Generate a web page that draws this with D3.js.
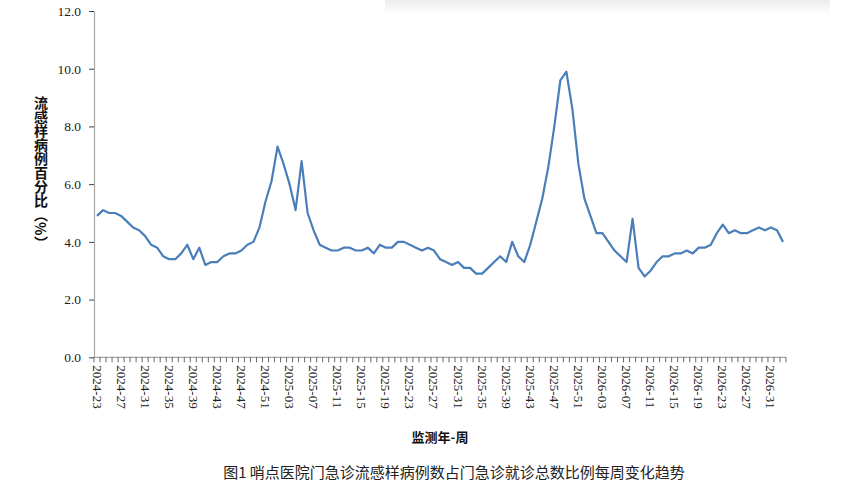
<!DOCTYPE html>
<html>
<head>
<meta charset="utf-8">
<script src="https://cdn.jsdelivr.net/npm/d3@7"></script>
<style>
	body { margin: 0; background: #fff; }
	svg { display: block; }
</style>
</head>
<body>
<svg width="849" height="501"></svg>
<script>
	// week ranges covered by the series: [year, first week, last week]
	const weekRanges = [[2024, 23, 52], [2025, 1, 52], [2026, 1, 33]];

	const rates = [
		4.9, 5.1, 5.0, 5.0, 4.9, 4.7, 4.5, 4.4, 4.2, 3.9,
		3.8, 3.5, 3.4, 3.4, 3.6, 3.9, 3.4, 3.8, 3.2, 3.3,
		3.3, 3.5, 3.6, 3.6, 3.7, 3.9, 4.0, 4.5, 5.4, 6.1,
		7.3, 6.7, 6.0, 5.1, 6.8, 5.0, 4.4, 3.9, 3.8, 3.7,
		3.7, 3.8, 3.8, 3.7, 3.7, 3.8, 3.6, 3.9, 3.8, 3.8,
		4.0, 4.0, 3.9, 3.8, 3.7, 3.8, 3.7, 3.4, 3.3, 3.2,
		3.3, 3.1, 3.1, 2.9, 2.9, 3.1, 3.3, 3.5, 3.3, 4.0,
		3.5, 3.3, 3.9, 4.7, 5.5, 6.6, 8.0, 9.6, 9.9, 8.6,
		6.7, 5.5, 4.9, 4.3, 4.3, 4.0, 3.7, 3.5, 3.3, 4.8,
		3.1, 2.8, 3.0, 3.3, 3.5, 3.5, 3.6, 3.6, 3.7, 3.6,
		3.8, 3.8, 3.9, 4.3, 4.6, 4.3, 4.4, 4.3, 4.3, 4.4,
		4.5, 4.4, 4.5, 4.4, 4.0
	];

	const yTicks = [0, 2, 4, 6, 8, 10, 12];

	const weeks = [];
	weekRanges.forEach(([year, from, to]) => {
		for (let w = from; w <= to; w++) weeks.push(`${year}-${String(w).padStart(2, '0')}`);
	});
	// every 4th week gets a label
	const weekLabels = weeks.filter((d, i) => i % 4 === 0);

	(function() {
		const svg = d3.select('svg');

		const plotLeft = 94;
		const plotRight = 786;
		const plotTop = 11;
		const plotBottom = 357.3;

		// faint shadow band along the top edge
		const shade = svg.append('defs').append('linearGradient')
			.attr('id', 'shade')
			.attr('x1', 0).attr('y1', 0).attr('x2', 0).attr('y2', 1);
		shade.append('stop').attr('offset', '0%').attr('stop-color', '#ececec');
		shade.append('stop').attr('offset', '100%').attr('stop-color', '#ffffff');
		svg.append('rect')
			.attr('x', 385).attr('y', 0)
			.attr('width', 445).attr('height', 14)
			.attr('fill', 'url(#shade)');

		const x = d3.scaleBand()
			.domain(weeks)
			.range([plotLeft, plotRight])
			.padding(0);

		const y = d3.scaleLinear()
			.domain([0, 12])
			.range([plotBottom, plotTop]);

		// y axis
		const yAxis = svg.append('g')
			.attr('transform', `translate(${plotLeft}, 0)`)
			.call(d3.axisLeft(y)
				.tickValues(yTicks)
				.tickFormat(d3.format('.1f'))
				.tickSize(5)
				.tickSizeOuter(0)
				.tickPadding(8));
		yAxis.select('.domain').attr('stroke', '#a6a6a6').attr('stroke-width', 1.2);
		yAxis.selectAll('.tick line').attr('stroke', '#404040');
		yAxis.selectAll('.tick text')
			.attr('font-family', '"Liberation Serif", "Times New Roman", serif')
			.attr('font-size', 13.5)
			.attr('fill', '#222');

		// x axis: week boundary ticks
		const xAxis = svg.append('g');
		xAxis.append('line')
			.attr('x1', plotLeft).attr('x2', plotRight)
			.attr('y1', plotBottom).attr('y2', plotBottom)
			.attr('stroke', '#a6a6a6')
			.attr('stroke-width', 1.2);
		xAxis.selectAll('.wtick')
			.data(weeks.concat(['end']))
			.enter().append('line')
			.attr('class', 'wtick')
			.attr('x1', d => d === 'end' ? plotRight : x(d))
			.attr('x2', d => d === 'end' ? plotRight : x(d))
			.attr('y1', plotBottom)
			.attr('y2', plotBottom + 5)
			.attr('stroke', '#404040')
			.attr('stroke-width', 0.8);

		xAxis.selectAll('.wlabel')
			.data(weekLabels)
			.enter().append('text')
			.attr('class', 'wlabel')
			.attr('transform', d => `translate(${x(d) + x.bandwidth() / 2}, ${plotBottom + 8}) rotate(90)`)
			.attr('dominant-baseline', 'central')
			.attr('font-family', '"Liberation Serif", "Times New Roman", serif')
			.attr('font-size', 13)
			.attr('fill', '#222')
			.text(d => d);

		// series
		const line = d3.line()
			.x((d, i) => x(weeks[i]) + x.bandwidth() / 2)
			.y(d => y(d));

		svg.append('path')
			.datum(rates)
			.attr('d', line)
			.attr('fill', 'none')
			.attr('stroke', '#4a7ebb')
			.attr('stroke-width', 2.2)
			.attr('stroke-linejoin', 'round');

		// titles
		svg.append('text')
			.attr('x', 41)
			.attr('y', 96)
			.attr('writing-mode', 'vertical-rl')
			.attr('font-family', '"Noto Sans CJK SC", sans-serif')
			.attr('font-weight', 'bold')
			.attr('font-size', 14)
			.attr('fill', '#111')
			.text('流感样病例百分比（%）');

		svg.append('text')
			.attr('x', 440)
			.attr('y', 442)
			.attr('text-anchor', 'middle')
			.attr('font-family', '"Noto Sans CJK SC", sans-serif')
			.attr('font-weight', 'bold')
			.attr('font-size', 13)
			.attr('fill', '#111')
			.text('监测年-周');

		svg.append('text')
			.attr('x', 454)
			.attr('y', 478)
			.attr('text-anchor', 'middle')
			.attr('font-family', '"Noto Sans CJK SC", sans-serif')
			.attr('font-size', 15)
			.attr('fill', '#222')
			.text('图1 哨点医院门急诊流感样病例数占门急诊就诊总数比例每周变化趋势');
	})();
</script>
</body>
</html>
